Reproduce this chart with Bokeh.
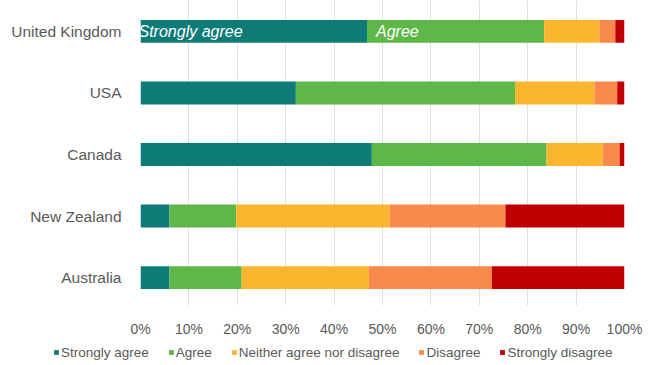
from bokeh.plotting import figure
from bokeh.layouts import column
from bokeh.models import ColumnDataSource, Range1d, FixedTicker, Legend, LegendItem
from bokeh.core.properties import value
from bokeh.embed import file_html
from bokeh.resources import INLINE

countries = ["United Kingdom", "USA", "Canada", "New Zealand", "Australia"]
strongly_agree = [46.8, 32.1, 47.8, 6.0, 6.0]
agree = [36.6, 45.3, 36.1, 13.8, 14.9]
neither = [11.4, 16.4, 11.6, 31.7, 26.3]
disagree = [3.3, 4.7, 3.5, 23.9, 25.4]
strongly_disagree = [1.9, 1.5, 1.0, 24.6, 27.4]
series_names = ["Strongly agree", "Agree", "Neither agree nor disagree", "Disagree", "Strongly disagree"]
x_ticks = [0, 10, 20, 30, 40, 50, 60, 70, 80, 90, 100]

colors = ["#0F7B77", "#5DB847", "#FCB52E", "#F7894A", "#C00000"]
FONT = "Liberation Sans"
GRAY = "#595959"

ypos = list(range(len(countries)))[::-1]
keys = ["sa", "a", "n", "d", "sd"]
data = dict(y=ypos, sa=strongly_agree, a=agree, n=neither, d=disagree, sd=strongly_disagree)
src = ColumnDataSource(data)

p = figure(width=647, height=339, output_backend="svg", toolbar_location=None,
           x_range=Range1d(0, 100), y_range=Range1d(-0.453, 4.502),
           min_border_left=140, min_border_right=23, min_border_top=0, min_border_bottom=33)
p.frame_align = False
p.outline_line_color = None
p.background_fill_color = "white"
p.border_fill_color = "white"

p.hbar_stack(keys, y="y", height=0.372, color=colors, source=src, line_color=None)

# in-bar labels for the first row
lbl_src = ColumnDataSource(dict(x=[0, strongly_agree[0]], y=[ypos[0], ypos[0]],
                                t=[series_names[0], series_names[1]], dx=[-2, 9]))
p.text(x="x", y="y", text="t", source=lbl_src, x_offset="dx", text_color="white",
       text_font=value(FONT), text_font_style="italic", text_font_size="16px",
       text_baseline="middle", text_align="left")

p.xaxis.ticker = FixedTicker(ticks=x_ticks)
p.xaxis.major_label_overrides = {t: f"{t}%" for t in x_ticks}
p.yaxis.ticker = FixedTicker(ticks=ypos)
p.yaxis.major_label_overrides = {y: c for y, c in zip(ypos, countries)}
for ax in (p.xaxis[0], p.yaxis[0]):
    ax.axis_line_color = None
    ax.major_tick_line_color = None
    ax.minor_tick_line_color = None
    ax.major_label_text_color = GRAY
    ax.major_label_text_font = FONT
p.xaxis.major_label_text_font_size = "14px"
p.xaxis.major_label_standoff = 9
p.yaxis.major_label_text_font_size = "15.5px"
p.yaxis.major_label_standoff = 13

p.ygrid.grid_line_color = None
p.xgrid.grid_line_color = "#E0E0E0"
p.xgrid.ticker = FixedTicker(ticks=x_ticks)

# legend strip below the chart
p2 = figure(width=647, height=26, output_backend="svg", toolbar_location=None,
            x_range=Range1d(0, 100), y_range=Range1d(10, 11),
            x_axis_location=None, y_axis_location=None,
            min_border_left=0, min_border_right=0, min_border_top=0, min_border_bottom=0)
p2.frame_align = False
p2.outline_line_color = None
p2.xgrid.grid_line_color = None
p2.ygrid.grid_line_color = None
leg_renderers = p2.hbar_stack(keys, y="y", height=0.372, color=colors, source=src, line_color=None)

legend = Legend(items=[LegendItem(label=n, renderers=[r]) for n, r in zip(series_names, leg_renderers)],
                orientation="horizontal", location=(53, 5),
                glyph_width=6, glyph_height=6, label_standoff=2, spacing=19, label_height=16,
                label_text_font=FONT, label_text_font_size="13.5px", label_text_color=GRAY,
                border_line_color=None, background_fill_alpha=0, padding=0, margin=0)
p2.add_layout(legend)

open("out.html", "w").write(file_html(column(p, p2), INLINE))
